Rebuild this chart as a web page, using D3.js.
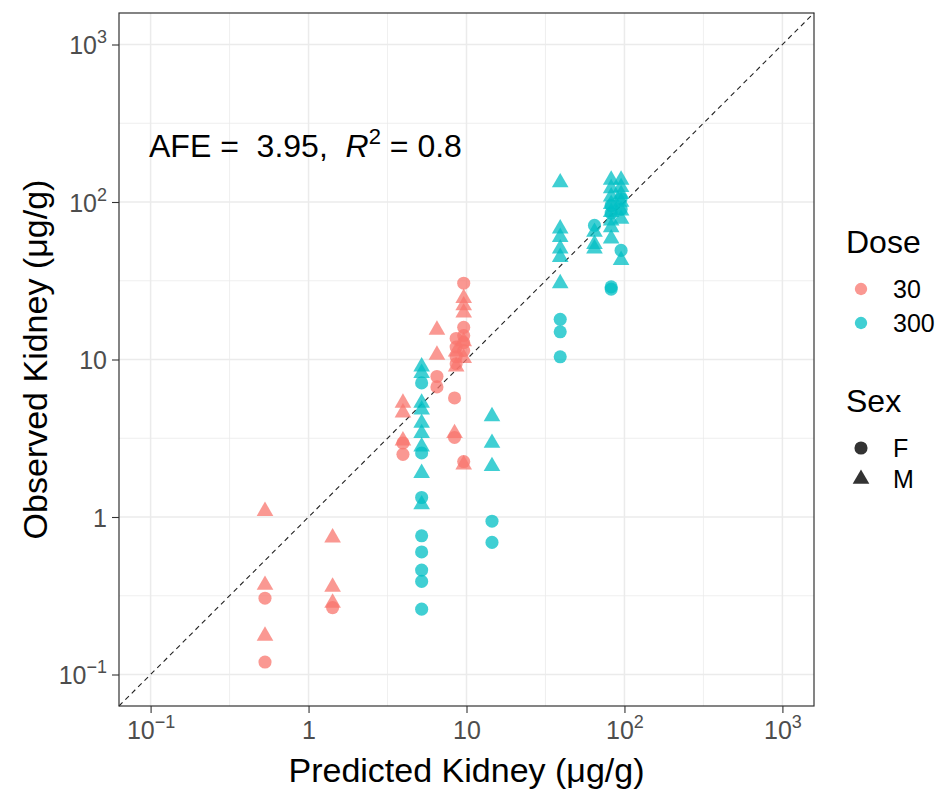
<!DOCTYPE html>
<html>
<head>
<meta charset="utf-8">
<script src="https://cdn.jsdelivr.net/npm/d3@7"></script>
<style>
  body { margin: 0; background: #fff; }
  svg { display: block; font-family: "Liberation Sans", Arial, sans-serif; }
  text { white-space: pre; }
</style>
</head>
<body>
<svg width="947" height="798"></svg>
<script>
/* global d3 */
// predicted vs observed kidney concentration (ug/g), one pair of arrays per dose/sex group
var pred30F = [0.53, 0.53, 1.42, 3.96, 3.96, 6.5, 6.5, 8.4, 8.4, 8.6, 8.6, 8.6, 8.6, 9.6, 9.6, 9.6, 9.6, 9.6, 9.6]
var obs30F = [0.305, 0.12, 0.266, 2.95, 2.5, 7.8, 6.7, 5.7, 3.2, 13.6, 12.0, 10.4, 9.4, 30.5, 16.0, 14.2, 12.8, 11.4, 2.25]
var pred30M = [0.53, 0.53, 0.53, 1.42, 1.42, 1.42, 3.96, 3.96, 3.96, 6.5, 6.5, 8.4, 8.6, 8.6, 9.6, 9.6, 9.6, 9.6, 9.6, 9.6]
var obs30M = [1.09, 0.37, 0.176, 0.74, 0.36, 0.285, 5.3, 4.6, 3.05, 15.4, 10.7, 3.4, 11.2, 9.0, 24.5, 22.0, 19.8, 13.0, 10.2, 2.15]
var pred300F = [5.2, 5.2, 5.2, 5.2, 5.2, 5.2, 5.2, 5.2, 14.5, 14.5, 39.2, 39.2, 39.2, 64.6, 82.4, 82.4, 82.4, 82.4, 95.2, 95.2, 95.2]
var obs300F = [7.1, 2.55, 1.33, 0.76, 0.6, 0.46, 0.39, 0.26, 0.94, 0.69, 18, 15, 10.4, 71, 95, 85, 28.9, 28.0, 105, 90, 49.3]
var pred300M = [5.2, 5.2, 5.2, 5.2, 5.2, 5.2, 5.2, 5.2, 5.2, 14.5, 14.5, 14.5, 39.2, 39.2, 39.2, 39.2, 39.2, 39.2,
  64.6, 64.6, 64.6, 82.4, 82.4, 82.4, 82.4, 82.4, 82.4, 82.4, 82.4, 95.2, 95.2, 95.2, 95.2, 95.2, 95.2, 95.2]
var obs300M = [9.0, 8.2, 5.3, 4.8, 3.95, 3.4, 2.8, 1.9, 1.2, 4.35, 2.95, 2.1, 133, 67.7, 59.8, 50.5, 44.7, 30.4,
  64.5, 54, 50.5, 138, 122, 108, 97, 86, 76, 69, 58.5, 138, 124, 112, 100, 88, 78, 42.7]

var doses = ['30', '300']
var sexes = ['F', 'M']
var majorTicks = [0.1, 1, 10, 100, 1000]
var minorTicks = [Math.pow(10, -0.5), Math.pow(10, 0.5), Math.pow(10, 1.5), Math.pow(10, 2.5)]

var groups = [
  { dose: '30', sex: 'F', pred: pred30F, obs: obs30F },
  { dose: '30', sex: 'M', pred: pred30M, obs: obs30M },
  { dose: '300', sex: 'F', pred: pred300F, obs: obs300F },
  { dose: '300', sex: 'M', pred: pred300M, obs: obs300M }
]
var points = []
groups.forEach(function (g) {
  g.pred.forEach(function (p, i) {
    points.push({ x: p, y: g.obs[i], dose: g.dose, sex: g.sex })
  })
})

var svg = d3.select('svg')
var pLeft = 119, pRight = 814, pTop = 13, pBottom = 706

var x = d3.scaleLog().domain([Math.pow(10, -1.2), Math.pow(10, 3.2)]).range([pLeft, pRight])
var y = d3.scaleLog().domain([Math.pow(10, -1.2), Math.pow(10, 3.2)]).range([pBottom, pTop])
var color = d3.scaleOrdinal().domain(doses).range(['#F8766D', '#00BFC4'])
var shape = d3.scaleOrdinal().domain(sexes).range([d3.symbolCircle, d3.symbolTriangle])
var size = d3.scaleOrdinal().domain(sexes).range([135, 120])

// grid
var grid = svg.append('g')
grid.selectAll('.vmin').data(minorTicks).enter().append('line')
    .attr('x1', d => x(d)).attr('x2', d => x(d)).attr('y1', pTop).attr('y2', pBottom)
    .attr('stroke', '#EBEBEB').attr('stroke-width', 0.8)
grid.selectAll('.hmin').data(minorTicks).enter().append('line')
    .attr('y1', d => y(d)).attr('y2', d => y(d)).attr('x1', pLeft).attr('x2', pRight)
    .attr('stroke', '#EBEBEB').attr('stroke-width', 0.8)
grid.selectAll('.vmaj').data(majorTicks).enter().append('line')
    .attr('x1', d => x(d)).attr('x2', d => x(d)).attr('y1', pTop).attr('y2', pBottom)
    .attr('stroke', '#EBEBEB').attr('stroke-width', 1.5)
grid.selectAll('.hmaj').data(majorTicks).enter().append('line')
    .attr('y1', d => y(d)).attr('y2', d => y(d)).attr('x1', pLeft).attr('x2', pRight)
    .attr('stroke', '#EBEBEB').attr('stroke-width', 1.5)

// identity line
var lo = x.domain()[0], hi = x.domain()[1]
svg.append('line')
    .attr('x1', x(lo)).attr('y1', y(lo)).attr('x2', x(hi)).attr('y2', y(hi))
    .attr('stroke', '#222').attr('stroke-width', 1.1).attr('stroke-dasharray', '5,4')

// points
svg.append('g').selectAll('path')
    .data(points)
    .enter().append('path')
      .attr('d', d => d3.symbol().type(shape(d.sex)).size(size(d.sex))())
      .attr('transform', d => 'translate(' + x(d.x) + ',' + y(d.y) + ')')
      .attr('fill', d => color(d.dose))
      .attr('fill-opacity', 0.75)

// panel border
svg.append('rect')
    .attr('x', pLeft).attr('y', pTop).attr('width', pRight - pLeft).attr('height', pBottom - pTop)
    .attr('fill', 'none').attr('stroke', '#333').attr('stroke-width', 1.2)

function powLabel (sel) {
  sel.each(function (d) {
    var t = d3.select(this).text('')
    var e = Math.round(Math.log10(d))
    if (e === 0 || e === 1) { t.text(String(d)); return }
    t.append('tspan').text('10')
    t.append('tspan').text(e < 0 ? '\u2212' + (-e) : String(e))
        .attr('font-size', '18px').attr('dy', '-11')
  })
}

var xAxis = svg.append('g')
    .attr('transform', 'translate(0,' + pBottom + ')')
    .call(d3.axisBottom(x).tickValues(majorTicks).tickSize(7).tickPadding(5))
xAxis.select('.domain').remove()
xAxis.selectAll('line').attr('stroke', '#333').attr('stroke-width', 1.1)
xAxis.selectAll('text')
    .attr('fill', '#4D4D4D').attr('font-size', '25px')
    .attr('font-family', '"Liberation Sans", Arial, sans-serif')
    .attr('dy', null).attr('y', 33)
    .call(powLabel)

var yAxis = svg.append('g')
    .attr('transform', 'translate(' + pLeft + ',0)')
    .call(d3.axisLeft(y).tickValues(majorTicks).tickSize(7).tickPadding(5))
yAxis.select('.domain').remove()
yAxis.selectAll('line').attr('stroke', '#333').attr('stroke-width', 1.1)
yAxis.selectAll('text')
    .attr('fill', '#4D4D4D').attr('font-size', '25px')
    .attr('font-family', '"Liberation Sans", Arial, sans-serif')
    .attr('x', -12).attr('dy', '0.36em')
    .call(powLabel)

// axis titles
svg.append('text')
    .attr('x', (pLeft + pRight) / 2).attr('y', 782)
    .attr('text-anchor', 'middle').attr('font-size', '34px').attr('fill', '#000')
    .text('Predicted Kidney (\u03bcg/g)')
svg.append('text')
    .attr('transform', 'translate(47,' + (pTop + pBottom) / 2 + ') rotate(-90)')
    .attr('text-anchor', 'middle').attr('font-size', '34px').attr('fill', '#000')
    .text('Observed Kidney (\u03bcg/g)')

// annotation
var note = svg.append('text')
    .attr('x', 149).attr('y', 157).attr('font-size', '32px').attr('fill', '#000')
note.append('tspan').text('AFE =  3.95,  ')
note.append('tspan').text('R').attr('font-style', 'italic')
note.append('tspan').text('2').attr('font-size', '22px').attr('dy', '-13')
note.append('tspan').text(' = 0.8').attr('dy', '13')

// legends
var leg = svg.append('g')
leg.append('text').attr('x', 846).attr('y', 253).attr('font-size', '32px').text('Dose')
leg.selectAll('.dk').data(doses).enter().append('path')
    .attr('d', d3.symbol().type(d3.symbolCircle).size(120)())
    .attr('transform', (d, i) => 'translate(861,' + (289 + i * 34) + ')')
    .attr('fill', d => color(d)).attr('fill-opacity', 0.75)
leg.selectAll('.dl').data(doses).enter().append('text')
    .attr('x', 893).attr('y', (d, i) => 289 + i * 34).attr('dy', '0.36em')
    .attr('font-size', '25px').text(d => d)

leg.append('text').attr('x', 846).attr('y', 412).attr('font-size', '32px').text('Sex')
leg.selectAll('.sk').data(sexes).enter().append('path')
    .attr('d', d => d3.symbol().type(shape(d)).size(size(d))())
    .attr('transform', (d, i) => 'translate(861,' + (448 + i * 31) + ')')
    .attr('fill', '#333')
leg.selectAll('.sl').data(sexes).enter().append('text')
    .attr('x', 893).attr('y', (d, i) => 448 + i * 31).attr('dy', '0.36em')
    .attr('font-size', '25px').text(d => d)
</script>
</body>
</html>
